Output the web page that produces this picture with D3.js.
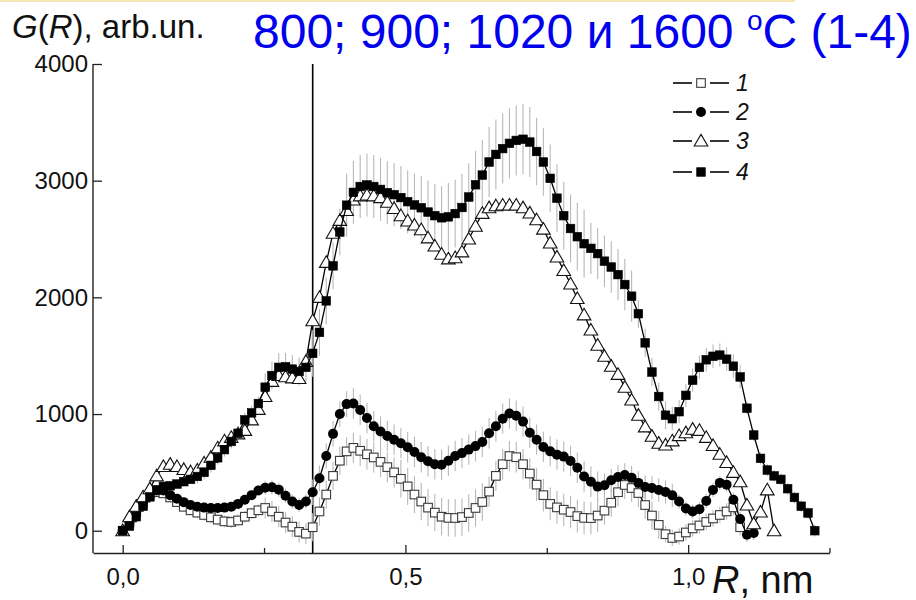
<!DOCTYPE html>
<html>
<head>
<meta charset="utf-8">
<script src="https://cdn.jsdelivr.net/npm/d3@7/dist/d3.min.js"></script>
<style>
  html, body { margin: 0; padding: 0; background: #fff; }
  svg { display: block; }
  text { font-family: "Liberation Sans", Arial, Helvetica, sans-serif; }
</style>
</head>
<body>
<svg id="chart" width="916" height="600"></svg>
<script>
// Radial distribution G(R): four annealing temperatures, sampled every 0.012 nm
const rStep = 0.012;

const series1 = [0,70,160,240,300,330,320,285,245,205, 175,155,135,115,95,80,75,88,120,150,
  175,195,165,120,70,35,-10,-25,30,165, 310,470,600,680,710,685,655,628,590,545,
  500,445,380,310,250,198,155,120,110,109, 117,152,195,246,335,470,570,640,630,570,
  490,395,305,230,200,180,160,125,110,108, 130,172,240,330,392,366,323,220,130,50,
  -30,-62,-50,-15,20,45,75,105,135,165, 200,30];

const series2 = [0,80,170,250,310,345,345,305,275,245, 220,205,198,195,195,198,205,230,265,305,
  345,368,372,352,300,250,220,250,330,450, 640,830,1000,1085,1090,1035,966,895,850,812,
  780,750,715,675,630,595,570,565,600,640, 665,695,725,760,835,895,960,1005,985,935,
  840,780,718,680,652,635,598,540,465,420, 378,390,432,460,478,455,410,375,366,349,
  332,303,250,190,165,185,255,350,410,395, 265,100,-35,-20];

const series3 = [0,120,210,290,360,470,550,570,550,525, 505,520,580,630,710,770,800,830,860,950,
  1040,1150,1280,1330,1320,1310,1305,1450,1800,2000, 2300,2550,2660,2745,2834,2870,2877,2870,2855,2815,
  2762,2700,2655,2620,2580,2510,2440,2370,2330,2340, 2390,2500,2610,2720,2768,2785,2791,2791,2791,2768,
  2723,2665,2585,2466,2346,2230,2115,1990,1850,1720, 1590,1495,1410,1340,1230,1120,990,890,810,750,
  735,770,815,840,870,860,800,730,655,585, 500,420,220,60,160,350,0];

const series4 = [0,40,120,210,290,350,380,385,400,420, 440,465,500,560,625,695,765,835,950,1010,
  1090,1230,1330,1400,1405,1385,1365,1400,1520,1700, 1970,2270,2560,2790,2900,2950,2963,2950,2925,2897,
  2880,2855,2820,2792,2768,2731,2700,2682,2690,2718, 2770,2860,2965,3048,3160,3225,3275,3320,3345,3355,
  3331,3250,3160,3020,2850,2700,2590,2520,2460,2420, 2375,2310,2260,2195,2110,2010,1860,1610,1360,1150,
  990,960,1020,1160,1290,1400,1465,1495,1505,1470, 1410,1318,1050,820,620,520,470,440,360,285,
  210,152,0];

// Half-lengths of the error bars (same sampling as the series)
const err1 = [20,20,20,20,20,40,40,40,40,40, 40,50,50,50,50,50,50,50,50,50,
  50,90,90,90,90,90,90,90,120,120, 120,120,120,120,130,130,130,130,130,130,
  130,160,160,160,160,160,160,160,160,160, 160,160,160,160,130,130,130,130,130,130,
  130,140,140,140,140,140,140,140,140,140, 140,120,120,120,120,120,120,120,120,120,
  70,70,70,70,70,70,70,70,70,70, 70,70];

const err2 = [40,40,40,40,40,40,40,40,40,40, 40,40,40,40,40,40,40,40,40,40,
  40,60,60,60,60,60,60,60,110,110, 110,110,110,110,130,130,130,130,130,130,
  130,130,130,130,130,130,130,130,130,130, 130,130,130,130,130,130,130,130,130,130,
  130,130,130,130,130,130,130,130,130,130, 130,100,100,100,100,100,100,100,100,100,
  100,100,60,60,60,60,60,60,60,60, 60,60,60,60];

const err4 = [30,30,30,30,30,30,30,30,30,30, 30,60,60,60,60,60,60,60,60,60,
  60,120,120,120,120,120,120,120,200,200, 200,200,200,270,270,270,270,270,270,270,
  270,270,270,270,270,270,270,270,290,290, 290,290,290,300,300,300,300,300,300,300,
  300,290,290,290,290,290,290,290,290,220, 220,220,220,220,220,220,120,120,120,120,
  120,100,100,100,100,100,100,100,100,100, 100,100,50,50,50,50,50,50,50,50,
  50,50,50];

const seriesLabels = ["1", "2", "3", "4"];
const markerKinds = ["openSquare", "circle", "triangle", "filledSquare"];

const yTicks = [0, 1000, 2000, 3000, 4000];
const xMajorTicks = [0, 0.5, 1.0];
const xMinorTicks = [0.25, 0.75, 1.25];
const cutoffR = 0.336;   // vertical marker line

const svg = d3.select("#chart");

const x = d3.scaleLinear().domain([-0.0525, 1.25]).range([93, 829.5]);
const y = d3.scaleLinear().domain([-191, 4000]).range([553, 64]);

// thin pale rule across the top of the slide
svg.append("line")
  .attr("x1", 0).attr("x2", 795).attr("y1", 1).attr("y2", 1)
  .attr("stroke", "#f6e7b4").attr("stroke-width", 2);

// axes
const yAxis = d3.axisLeft(y).tickValues(yTicks).tickSizeInner(-9).tickSizeOuter(0)
  .tickPadding(5).tickFormat(d3.format("d"));
const gy = svg.append("g").attr("transform", `translate(${x.range()[0]},0)`).call(yAxis);

const xAxisMajor = d3.axisBottom(x).tickValues(xMajorTicks).tickSizeInner(-8).tickSizeOuter(0)
  .tickPadding(15).tickFormat(d => d3.format(".1f")(d).replace(".", ","));
const gx = svg.append("g").attr("transform", `translate(0,${y.range()[0]})`).call(xAxisMajor);
const xAxisMinor = d3.axisBottom(x).tickValues(xMinorTicks).tickSizeInner(-5).tickSizeOuter(0)
  .tickFormat("");
const gx2 = svg.append("g").attr("transform", `translate(0,${y.range()[0]})`).call(xAxisMinor);
gx2.select(".domain").remove();

[gy, gx, gx2].forEach(g => {
  g.select(".domain").attr("stroke", "#222").attr("stroke-width", 1.4);
  g.selectAll(".tick line").attr("stroke", "#222").attr("stroke-width", 1.3);
  g.selectAll(".tick text").attr("fill", "#111").style("font-size", "24px")
    .style("font-family", "'Liberation Sans', Arial, sans-serif");
});
gy.select(".domain").attr("d", `M0,${y.range()[0]}V${y.range()[1]}`);

// vertical cutoff line
svg.append("line")
  .attr("x1", x(cutoffR)).attr("x2", x(cutoffR))
  .attr("y1", y.range()[1]).attr("y2", y.range()[0])
  .attr("stroke", "#000").attr("stroke-width", 1.6);

// build point tables
function toPoints(vals, errs) {
  return vals.map((v, i) => ({ r: +(i * rStep).toFixed(3), v: v, e: errs ? errs[i] : 0 }));
}
const allSeries = [
  toPoints(series1, err1),
  toPoints(series2, err2),
  toPoints(series3, null),
  toPoints(series4, err4)
];

// error bars first, underneath everything
const errLayer = svg.append("g");
allSeries.forEach(pts => {
  errLayer.selectAll(null).data(pts.filter(p => p.e > 0)).enter().append("line")
    .attr("x1", p => x(p.r)).attr("x2", p => x(p.r))
    .attr("y1", p => y(p.v + p.e)).attr("y2", p => y(p.v - p.e))
    .attr("stroke", "#b8b8b8").attr("stroke-width", 1.1);
});

function drawMarker(sel, kind) {
  if (kind === "openSquare") {
    sel.append("rect").attr("x", -4.3).attr("y", -4.3).attr("width", 8.6).attr("height", 8.6)
      .attr("fill", "#fff").attr("stroke", "#3a3a3a").attr("stroke-width", 1.1);
  } else if (kind === "filledSquare") {
    sel.append("rect").attr("x", -4.3).attr("y", -4.3).attr("width", 8.6).attr("height", 8.6)
      .attr("fill", "#000").attr("stroke", "#000").attr("stroke-width", 0.6);
  } else if (kind === "circle") {
    sel.append("circle").attr("r", 5).attr("fill", "#000");
  } else if (kind === "triangle") {
    sel.append("path").attr("d", "M0,-6.6L6.8,5L-6.8,5Z")
      .attr("fill", "#fff").attr("stroke", "#111").attr("stroke-width", 1.1);
  }
}

const line = d3.line().x(p => x(p.r)).y(p => y(p.v));

allSeries.forEach((pts, k) => {
  const g = svg.append("g");
  g.append("path").datum(pts).attr("d", line)
    .attr("fill", "none").attr("stroke", "#000").attr("stroke-width", 1.3);
  const m = g.selectAll("g.pt").data(pts).enter().append("g")
    .attr("transform", p => `translate(${x(p.r)},${y(p.v)})`);
  drawMarker(m, markerKinds[k]);
});

// legend
const legend = svg.append("g").attr("transform", "translate(673,83)");
seriesLabels.forEach((lab, k) => {
  const row = legend.append("g").attr("transform", `translate(0,${[0, 29, 58, 89][k]})`);
  row.append("line").attr("x1", 0).attr("x2", 19).attr("stroke", "#111").attr("stroke-width", 1.7);
  row.append("line").attr("x1", 37).attr("x2", 56).attr("stroke", "#111").attr("stroke-width", 1.7);
  drawMarker(row.append("g").attr("transform", "translate(28,0)"), markerKinds[k]);
  row.append("text").attr("x", 63).attr("y", 8).text(lab)
    .style("font-size", "23px").style("font-style", "italic").attr("fill", "#111");
});

// axis titles
const yTitle = svg.append("text").attr("x", 12).attr("y", 38)
  .style("font-size", "33px").attr("fill", "#111");
yTitle.append("tspan").style("font-style", "italic").text("G");
yTitle.append("tspan").text("(");
yTitle.append("tspan").style("font-style", "italic").text("R");
yTitle.append("tspan").text("), arb.un.");

const xTitle = svg.append("text").attr("x", 712).attr("y", 593)
  .style("font-size", "38px").attr("fill", "#111");
xTitle.append("tspan").style("font-style", "italic").text("R");
xTitle.append("tspan").text(", nm");

// headline
const head = svg.append("text").attr("x", 253).attr("y", 48)
  .style("font-size", "48px").attr("fill", "#0000ee");
head.append("tspan").text("800; 900; 1020 и 1600 ");
head.append("tspan").attr("dy", -18).style("font-size", "28px").text("o");
head.append("tspan").attr("dy", 18).text("C (1-4)");
</script>
</body>
</html>
